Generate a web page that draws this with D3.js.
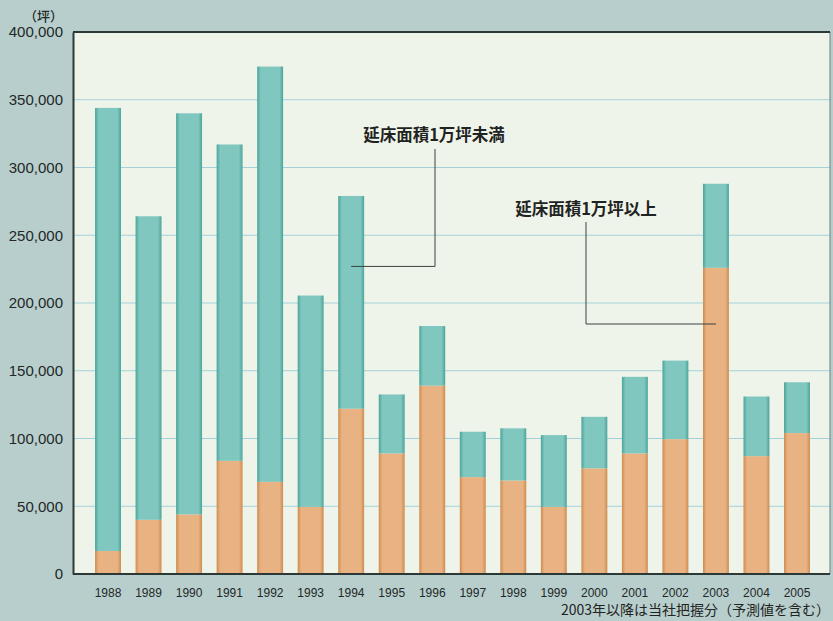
<!DOCTYPE html>
<html>
<head>
<meta charset="utf-8">
<script src="https://cdn.jsdelivr.net/npm/d3@7"></script>
<style>
  body { margin: 0; background: #b9cfcd; }
  svg { display: block; }
</style>
</head>
<body>
<div id="chart"></div>
<script>
const years = ["1988","1989","1990","1991","1992","1993","1994","1995","1996",
  "1997","1998","1999","2000","2001","2002","2003","2004","2005"];
// 延床面積1万坪以上 (bottom, orange)
const largeArea = [17000, 40000, 44000, 83500, 68000, 49500, 122000, 89000, 139000,
  71500, 69000, 49500, 78000, 89000, 99500, 226000, 87000, 104000];
// 延床面積1万坪未満 (top, teal)
const smallArea = [327000, 224000, 296000, 233500, 306500, 156000, 157000, 43500, 44000,
  33500, 38500, 53000, 38000, 56500, 58000, 62000, 44000, 37500];
const yTicks = [0, 50000, 100000, 150000, 200000, 250000, 300000, 350000, 400000];

const width = 833, height = 621;
const margin = { top: 32, right: 3, bottom: 47, left: 73 };
const innerW = width - margin.left - margin.right;
const innerH = height - margin.top - margin.bottom;

const svg = d3.select("#chart").append("svg")
  .attr("width", width)
  .attr("height", height);

svg.append("rect")
  .attr("width", width).attr("height", height)
  .attr("fill", "#b8cecc");

const defs = svg.append("defs");
function barGradient(id, edge, mid) {
  const g = defs.append("linearGradient").attr("id", id)
    .attr("x1", "0%").attr("x2", "100%").attr("y1", "0%").attr("y2", "0%");
  g.append("stop").attr("offset", "0%").attr("stop-color", edge);
  g.append("stop").attr("offset", "14%").attr("stop-color", mid);
  g.append("stop").attr("offset", "86%").attr("stop-color", mid);
  g.append("stop").attr("offset", "100%").attr("stop-color", edge);
}
barGradient("gTeal", "#4aa49a", "#80c7bf");
barGradient("gOrange", "#cf8c4f", "#e9b283");

const chart = svg.append("g")
  .attr("transform", `translate(${margin.left},${margin.top})`);

chart.append("rect")
  .attr("width", innerW).attr("height", innerH)
  .attr("fill", "#eff4ea");

const x = d3.scaleBand()
  .domain(years)
  .range([87.75 - margin.left, 817.25 - margin.left])
  .paddingInner(0.36)
  .paddingOuter(0.18);

const y = d3.scaleLinear()
  .domain([0, 400000])
  .range([innerH, 0]);

// gridlines
chart.append("g")
  .selectAll("line")
  .data(yTicks.filter(d => d > 0 && d < 400000))
  .join("line")
  .attr("x1", 0).attr("x2", innerW)
  .attr("y1", d => y(d)).attr("y2", d => y(d))
  .attr("stroke", "#a3d1da")
  .attr("stroke-width", 1.2);

const rows = years.map((yr, i) => ({ year: yr, large: largeArea[i], small: smallArea[i] }));
const stacked = d3.stack().keys(["large", "small"])(rows);
const fills = { large: "url(#gOrange)", small: "url(#gTeal)" };

chart.append("g")
  .selectAll("g")
  .data(stacked)
  .join("g")
  .attr("fill", d => fills[d.key])
  .selectAll("rect")
  .data(d => d)
  .join("rect")
  .attr("x", d => x(d.data.year))
  .attr("width", x.bandwidth())
  .attr("y", d => y(d[1]))
  .attr("height", d => y(d[0]) - y(d[1]));

// frame
chart.append("line").attr("x1", innerW).attr("x2", innerW).attr("y1", 0).attr("y2", innerH)
  .attr("stroke", "#6f7f7c").attr("stroke-width", 1);
chart.append("line").attr("x1", 0).attr("x2", innerW).attr("y1", 0).attr("y2", 0)
  .attr("stroke", "#2c3836").attr("stroke-width", 2);

// axes
const yAxis = chart.append("g")
  .call(d3.axisLeft(y).tickValues(yTicks).tickSize(0).tickPadding(10)
    .tickFormat(d3.format(",")));
yAxis.select(".domain").attr("stroke", "#2c3836").attr("stroke-width", 2);
yAxis.selectAll("text")
  .attr("font-family", "'Liberation Sans', Arial, sans-serif")
  .attr("font-size", 15)
  .attr("fill", "#222827");

const xAxis = chart.append("g")
  .attr("transform", `translate(0,${innerH})`)
  .call(d3.axisBottom(x).tickSize(0).tickPadding(14));
xAxis.select(".domain").attr("stroke", "#2c3836").attr("stroke-width", 2.2)
  .attr("d", `M0,0H${innerW}`);
xAxis.selectAll("text")
  .attr("font-family", "'Liberation Sans', Arial, sans-serif")
  .attr("font-size", 12)
  .attr("fill", "#222827");

svg.append("text")
  .attr("x", 63).attr("y", 21)
  .attr("text-anchor", "end")
  .attr("font-family", "'Noto Sans CJK JP', sans-serif")
  .attr("font-weight", 500)
  .attr("font-size", 13)
  .attr("fill", "#222827")
  .text("（坪）");

// annotations
const cx = yr => x(yr) + x.bandwidth() / 2;
const noteFont = "'Noto Sans CJK JP', sans-serif";

const a1y = y(227000);
chart.append("path")
  .attr("d", `M${cx("1994")},${a1y}H${435 - margin.left}V${149 - margin.top}`)
  .attr("fill", "none").attr("stroke", "#3a4240").attr("stroke-width", 1);
chart.append("text")
  .attr("x", 434 - margin.left).attr("y", 141 - margin.top)
  .attr("text-anchor", "middle")
  .attr("font-family", noteFont).attr("font-weight", 700)
  .attr("font-size", 16.5).attr("fill", "#1f2423")
  .text("延床面積1万坪未満");

const a2y = y(184500);
chart.append("path")
  .attr("d", `M${cx("2003")},${a2y}H${586 - margin.left}V${222 - margin.top}`)
  .attr("fill", "none").attr("stroke", "#3a4240").attr("stroke-width", 1);
chart.append("text")
  .attr("x", 586 - margin.left).attr("y", 215 - margin.top)
  .attr("text-anchor", "middle")
  .attr("font-family", noteFont).attr("font-weight", 700)
  .attr("font-size", 16.5).attr("fill", "#1f2423")
  .text("延床面積1万坪以上");

svg.append("text")
  .attr("x", 830).attr("y", 615)
  .attr("text-anchor", "end")
  .attr("font-family", noteFont)
  .attr("font-size", 14).attr("fill", "#1f2423")
  .text("2003年以降は当社把握分（予測値を含む）");
</script>
</body>
</html>
